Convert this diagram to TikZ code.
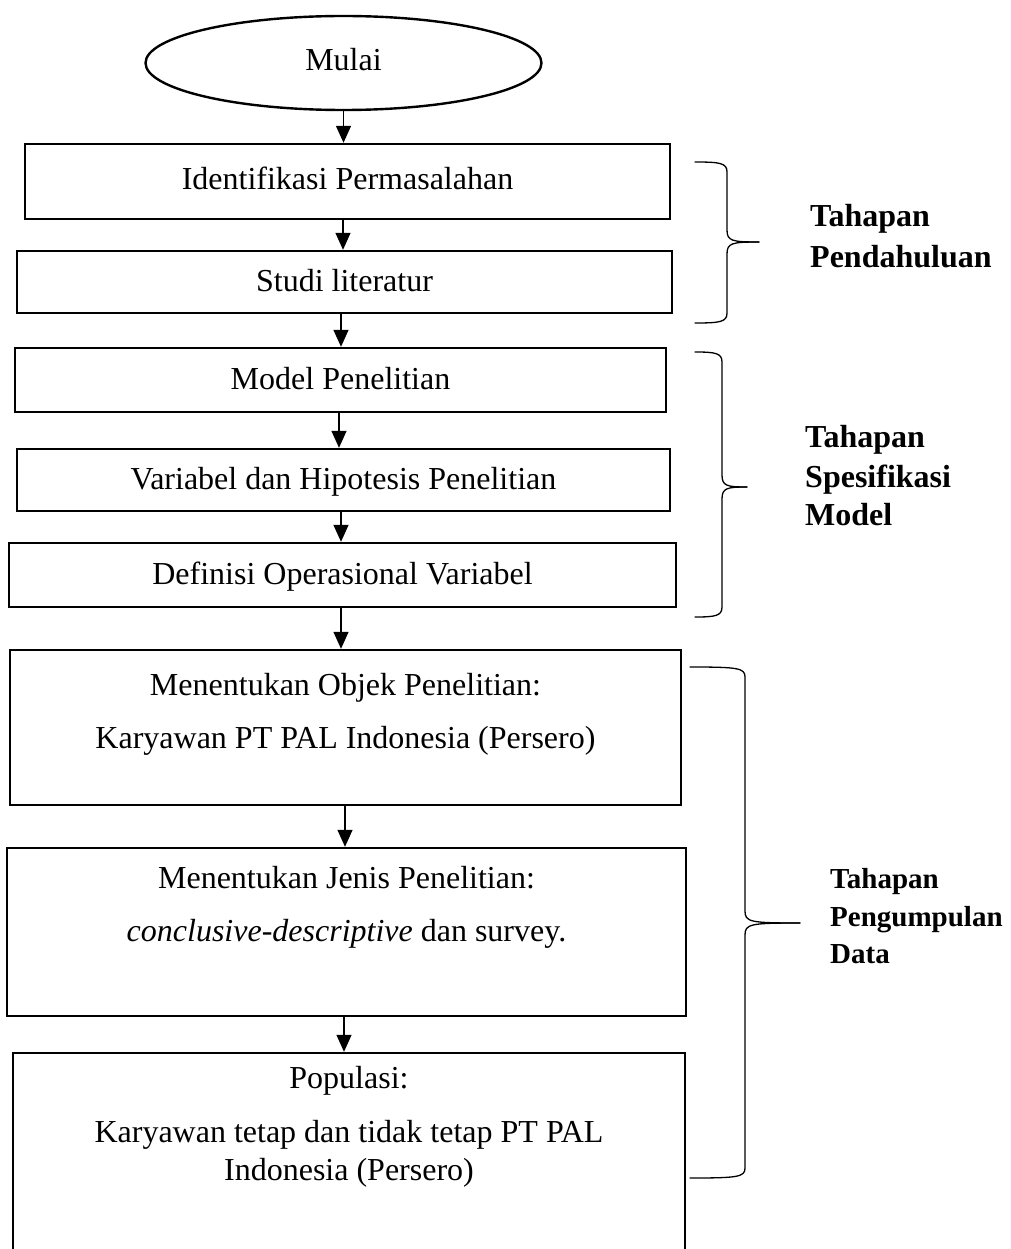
\documentclass[tikz,border=0pt]{standalone}
\usepackage{fontspec}
\setmainfont{Liberation Serif}
\usetikzlibrary{arrows.meta,shapes.geometric}

% right curly brace: tip x, spine x, middle tip x, top y, middle y, bottom y
\newcommand\stagebrace[6]{%
  \draw[brace] (#1,#4) .. controls (#2-7,#4) and (#2,#4+1) .. (#2,#4+10)
     -- (#2,#5-12) .. controls (#2,#5-1) and (#2+5,#5) .. (#3,#5);
  \draw[brace] (#3,#5) .. controls (#2+5,#5) and (#2,#5+1) .. (#2,#5+12)
     -- (#2,#6-10) .. controls (#2,#6-1) and (#2-7,#6) .. (#1,#6);
}

\begin{document}
\begin{tikzpicture}[x=1pt,y=-1pt,
  box/.style={draw,line width=2.4pt,rectangle,inner sep=0pt},
  start/.style={draw,line width=2.4pt,ellipse,inner sep=0pt,
                minimum width=396pt,minimum height=94pt},
  txt/.style={anchor=base,inner sep=0pt,font=\fontsize{32}{38}\selectfont},
  lab/.style={anchor=base west,inner sep=0pt,font=\fontsize{32}{38}\selectfont\bfseries},
  smalllab/.style={lab,font=\fontsize{29}{35}\selectfont\bfseries},
  arr/.style={line width=1.4pt,-{Triangle[width=15pt,length=17pt]}},
  brace/.style={line width=1.3pt,line cap=round}]

\useasboundingbox (0,0) rectangle (1010,1249);
\clip (0,0) rectangle (1010,1249);

% start terminal
\node[start] (e) at (343.5,63) {};
\node[txt] (te) at (343.5,71) {Mulai};

% process boxes
\node[box,minimum width=645pt,minimum height=75pt] (b1) at (347.5,181.5) {};
\node[box,minimum width=655pt,minimum height=62pt] (b2) at (344.5,282) {};
\node[box,minimum width=651pt,minimum height=64pt] (b3) at (340.5,380) {};
\node[box,minimum width=653pt,minimum height=62pt] (b4) at (343.5,480) {};
\node[box,minimum width=667pt,minimum height=64pt] (b5) at (342.5,575) {};
\node[box,minimum width=671pt,minimum height=155pt] (b6) at (345.5,727.5) {};
\node[box,minimum width=679pt,minimum height=168pt] (b7) at (346.5,932) {};
\node[box,minimum width=672pt,minimum height=209pt] (b8) at (349,1157.5) {};

% box texts
\node[txt] (t1) at (347.5,190) {Identifikasi Permasalahan};
\node[txt] (t2) at (344.5,291) {Studi literatur};
\node[txt] (t3) at (340.5,389) {Model Penelitian};
\node[txt] (t4) at (343.5,489) {Variabel dan Hipotesis Penelitian};
\node[txt] (t5) at (342.5,584) {Definisi Operasional Variabel};
\node[txt] (t6a) at (345.5,695) {Menentukan Objek Penelitian:};
\node[txt] (t6b) at (345.5,748) {Karyawan PT PAL Indonesia (Persero)};
\node[txt] (t7a) at (346.5,888) {Menentukan Jenis Penelitian:};
\node[txt] (t7b) at (346.5,941) {\textit{conclusive-descriptive} dan survey.};
\node[txt] (t8a) at (349,1088) {Populasi:};
\node[txt] (t8b) at (349,1142) {Karyawan tetap dan tidak tetap PT PAL};
\node[txt] (t8c) at (349,1180) {Indonesia (Persero)};

% connectors
\draw[arr] (e.south) -- (b1.north -| e.south);
\foreach \u/\v/\x in {b1/b2/343, b2/b3/341, b3/b4/339, b4/b5/341,
                      b5/b6/341, b6/b7/345, b7/b8/344}
  \draw[arr] (\u.south -| \x,0) -- (\v.north -| \x,0);

% stage braces
\stagebrace{695}{727}{759}{162}{242}{323}
\stagebrace{695}{722}{747}{352}{487}{617}
\stagebrace{690}{745}{800}{667}{923}{1178}

% stage labels
\node[lab] (s1a) at (810,227) {Tahapan};
\node[lab] (s1b) at (810,267) {Pendahuluan};
\node[lab] (s2a) at (805,447) {Tahapan};
\node[lab] (s2b) at (805,487) {Spesifikasi};
\node[lab] (s2c) at (805,525) {Model};
\node[smalllab] (s3a) at (830,888) {Tahapan};
\node[smalllab] (s3b) at (830,926) {Pengumpulan};
\node[smalllab] (s3c) at (830,963) {Data};
\end{tikzpicture}
\end{document}
